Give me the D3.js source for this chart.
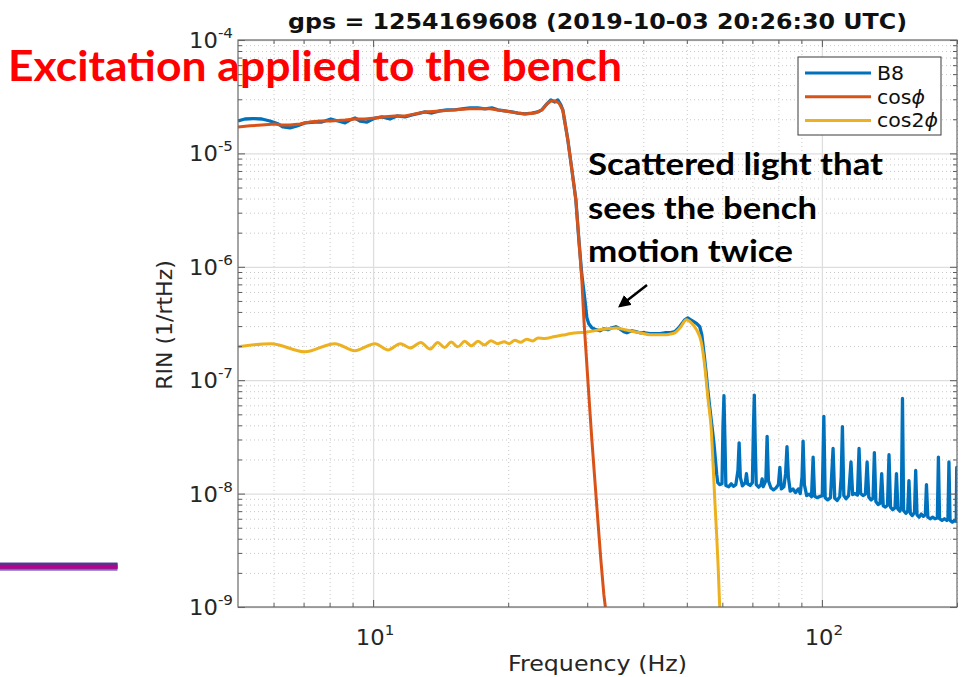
<!DOCTYPE html>
<html>
<head>
<meta charset="utf-8">
<script src="https://cdn.jsdelivr.net/npm/d3@7"></script>
<style>
  body { margin: 0; background: #fff; }
  svg { display: block; }
  .tick-label, .axis-label { font-family: "DejaVu Sans", sans-serif; fill: #262626; }
</style>
</head>
<body>
<div id="holder"></div>
<script>
// ---- data: [frequency (Hz), RIN (1/rtHz)] ----
var b8 = [
  [5.00,1.93e-5],[5.18,2.01e-5],[5.40,2.03e-5],[5.65,2.01e-5],[5.89,1.93e-5],[6.14,1.82e-5],[6.30,1.71e-5],
  [6.53,1.68e-5],[6.77,1.75e-5],[7.05,1.86e-5],[7.42,1.89e-5],[7.69,1.89e-5],[8.05,2.01e-5],[8.35,1.93e-5],
  [8.66,1.86e-5],[8.88,1.97e-5],[9.11,2.05e-5],[9.35,1.93e-5],[9.69,1.89e-5],[10.10,2.05e-5],[10.46,2.10e-5],
  [10.90,2.01e-5],[11.30,2.14e-5],[11.78,2.10e-5],[12.21,2.18e-5],[12.72,2.27e-5],[13.05,2.32e-5],[13.52,2.27e-5],
  [14.09,2.37e-5],[14.60,2.42e-5],[15.21,2.42e-5],[15.77,2.47e-5],[16.43,2.52e-5],[17.12,2.52e-5],[17.75,2.47e-5],
  [18.39,2.52e-5],[18.97,2.42e-5],[19.66,2.37e-5],[20.38,2.32e-5],[21.02,2.27e-5],[21.79,2.23e-5],[22.58,2.27e-5],
  [23.29,2.32e-5],[23.77,2.42e-5],[24.39,2.73e-5],[24.89,2.96e-5],[25.41,2.84e-5],[25.80,2.96e-5],[26.20,2.68e-5],
  [26.47,2.41e-5],[27.16,1.31e-5],[27.73,7.16e-6],[28.30,3.89e-6],[28.74,1.73e-6],[29.18,8.50e-7],[29.64,5.12e-7],
  [29.94,3.56e-7],[30.24,3.15e-7],[30.72,2.90e-7],[31.36,2.79e-7],[32.01,2.73e-7],[32.67,2.84e-7],[33.35,2.79e-7],
  [34.04,2.90e-7],[34.75,2.96e-7],[35.46,2.84e-7],[36.20,2.68e-7],[36.76,2.62e-7],[37.72,2.73e-7],[38.50,2.68e-7],
  [39.30,2.62e-7],[40.32,2.62e-7],[41.37,2.57e-7],[42.45,2.57e-7],[43.55,2.57e-7],[44.67,2.62e-7],[45.82,2.62e-7],
  [47.01,2.68e-7],[47.99,2.90e-7],[48.74,3.15e-7],[49.49,3.41e-7],[50.26,3.55e-7],[51.03,3.41e-7],[51.81,3.28e-7],
  [52.63,3.15e-7],[53.45,2.96e-7],[54.00,2.52e-7],[54.56,1.78e-7],[55.12,1.24e-7],[55.68,8.25e-8],[56.26,5.72e-8],
  [56.84,4.05e-8],[57.42,2.87e-8],[57.86,2.08e-8],[58.31,1.47e-8],[58.61,1.25e-8],[59.20,1.20e-8],
  [59.9,1.22e-8],[60.2,4.0e-8],[60.5,7.3e-8],[60.8,3.0e-8],[61.1,1.18e-8],[62.0,1.15e-8],[62.8,1.22e-8],
  [63.5,1.16e-8],[64.3,1.20e-8],[65.0,1.6e-8],[65.4,2.8e-8],[65.8,1.4e-8],[66.5,1.17e-8],[67.5,1.25e-8],
  [67.9,1.5e-8],[68.3,1.22e-8],[69.2,1.18e-8],[70.0,1.25e-8],[70.4,4.0e-8],[70.7,7.4e-8],[71.0,3.0e-8],
  [71.4,1.20e-8],[72.3,1.14e-8],[73.2,1.20e-8],[73.6,1.35e-8],[74.0,1.15e-8],[75.0,1.3e-8],[75.5,3.2e-8],
  [76.0,1.3e-8],[77.0,1.12e-8],[78.0,1.08e-8],[79.0,1.12e-8],[80.0,1.2e-8],[80.6,1.7e-8],[81.2,1.1e-8],
  [82.3,1.15e-8],[83.0,1.5e-8],[83.6,2.6e-8],[84.2,1.4e-8],[85.0,1.05e-8],[86.2,1.10e-8],[87.3,1.02e-8],
  [88.6,1.10e-8],[89.5,1.0e-8],[90.3,1.4e-8],[90.8,2.9e-8],[91.4,1.2e-8],[92.5,9.6e-9],[93.7,9.9e-9],
  [94.8,9.4e-9],[95.6,2.1e-8],[96.3,9.5e-9],[97.5,9.2e-9],[98.8,9.4e-9],[100.2,9.6e-9],[101.0,4.8e-8],
  [101.7,9.2e-9],[103.0,8.8e-9],[104.5,9.2e-9],[105.9,2.5e-8],[106.8,9.1e-9],[108.2,8.7e-9],[109.6,9.4e-9],
  [110.4,1.4e-8],[111.1,3.9e-8],[111.9,9.6e-9],[113.2,9.0e-9],[114.7,9.6e-9],[116.1,1.9e-8],[117.1,9.8e-9],
  [118.5,1.0e-8],[120.0,9.7e-9],[121.0,2.5e-8],[122.0,1.0e-8],[123.5,9.6e-9],[125.0,9.9e-9],[126.1,1.9e-8],
  [127.2,9.3e-9],[128.7,8.8e-9],[130.0,9.1e-9],[130.9,2.3e-8],[131.9,8.5e-9],[133.4,8.0e-9],[134.8,8.2e-9],
  [135.9,1.5e-8],[137.0,7.8e-9],[138.5,7.6e-9],[140.0,7.9e-9],[141.1,2.2e-8],[142.2,7.6e-9],[143.8,7.2e-9],
  [145.5,7.5e-9],[146.6,1.5e-8],[147.7,7.3e-9],[149.2,7.0e-9],[150.3,7.6e-9],[151.2,6.9e-8],[152.1,7.1e-9],
  [153.8,6.7e-9],[155.3,7.0e-9],[156.3,1.3e-8],[157.4,6.7e-9],[159.0,6.4e-9],[160.8,6.8e-9],[161.8,1.6e-8],
  [162.9,6.5e-9],[164.7,6.2e-9],[166.5,6.6e-9],[168.3,6.3e-9],[170.0,6.5e-9],[171.0,1.2e-8],[172.2,6.2e-9],
  [174.3,6.0e-9],[176.5,6.2e-9],[178.6,6.0e-9],[180.8,6.1e-9],[181.8,2.1e-8],[182.9,6.0e-9],[185.2,5.8e-9],
  [187.5,6.0e-9],[189.8,5.8e-9],[190.9,6.0e-9],[191.9,1.9e-8],[193.0,5.8e-9],[195.3,5.6e-9],[197.6,5.8e-9],
  [199.2,5.7e-9],[199.7,1.7e-8],[200.0,1.1e-8]
];

var cosPhi = [
  [5.00,1.71e-5],[5.32,1.75e-5],[5.65,1.78e-5],[6.04,1.82e-5],[6.23,1.78e-5],[6.53,1.78e-5],[6.87,1.82e-5],
  [7.23,1.89e-5],[7.61,1.93e-5],[8.05,1.93e-5],[8.66,1.97e-5],[9.11,2.01e-5],[9.59,2.01e-5],[10.10,2.05e-5],
  [10.63,2.10e-5],[11.18,2.14e-5],[11.78,2.14e-5],[12.40,2.23e-5],[13.05,2.32e-5],[14.09,2.37e-5],[15.21,2.42e-5],
  [16.43,2.47e-5],[17.12,2.47e-5],[18.21,2.47e-5],[19.66,2.37e-5],[21.02,2.27e-5],[21.79,2.23e-5],[22.94,2.27e-5],
  [23.77,2.42e-5],[24.39,2.73e-5],[24.89,2.90e-5],[25.41,2.90e-5],[25.93,2.79e-5],[26.47,2.41e-5],
  [27.16,1.31e-5],[27.73,7.16e-6],[28.30,3.89e-6],[28.74,1.73e-6],[29.18,7.68e-7],[29.49,3.41e-7],
  [29.79,1.86e-7],[30.09,1.01e-7],[30.40,5.49e-8],[30.72,2.99e-8],[31.19,1.33e-8],[31.67,5.90e-9],
  [32.17,2.62e-9],[32.67,1.29e-9],[33.18,7.76e-10]
];

var cos2Phi = [
  [5.00,1.97e-7],[5.92,2.10e-7],[7.05,1.78e-7],[8.22,2.10e-7],[9.10,1.82e-7],[10.10,2.10e-7],[10.80,1.85e-7],
  [11.50,2.10e-7],[12.10,1.92e-7],[12.78,2.15e-7],[13.39,1.88e-7],[13.93,2.15e-7],[14.43,1.94e-7],[14.93,2.17e-7],
  [15.45,1.97e-7],[16.00,2.20e-7],[16.55,2.01e-7],[17.12,2.20e-7],[17.70,2.04e-7],[18.30,2.23e-7],[18.97,2.10e-7],
  [19.60,2.18e-7],[20.10,2.10e-7],[20.70,2.25e-7],[21.30,2.16e-7],[22.00,2.30e-7],[22.70,2.22e-7],[23.30,2.36e-7],
  [24.10,2.33e-7],[25.40,2.43e-7],[26.50,2.50e-7],[27.60,2.58e-7],[28.50,2.62e-7],[29.60,2.64e-7],[31.00,2.72e-7],
  [32.00,2.79e-7],[33.35,2.84e-7],[34.86,2.88e-7],[36.38,2.79e-7],[37.90,2.69e-7],[39.30,2.62e-7],[41.37,2.52e-7],
  [43.10,2.52e-7],[45.06,2.52e-7],[46.30,2.57e-7],[47.01,2.61e-7],[48.24,2.88e-7],[49.92,3.41e-7],[51.21,3.19e-7],
  [52.55,2.79e-7],[53.90,2.14e-7],[54.84,1.32e-7],[55.77,6.73e-8],[56.75,3.44e-8],[57.24,1.74e-8],[57.72,8.85e-9],
  [58.24,4.53e-9],[58.72,2.29e-9],[59.20,1.0e-9],[59.51,6.94e-10]
];

var seriesNames = ['B8', 'cos', 'cos2'];
var seriesColors = ['#0072BD', '#D95319', '#EDB120'];
var xTickExps = [1, 2];
var yTickExps = [-9, -8, -7, -6, -5, -4];
var titleText = 'gps = 1254169608 (2019-10-03 20:26:30 UTC)';

// ---- layout ----
var fullWidth = 961, fullHeight = 677;
var plot = {left: 238, right: 957, top: 40, bottom: 607};
var sx = 1.08; // the slide stretched the figure a little horizontally

var svg = d3.select('#holder').append('svg')
  .attr('width', fullWidth)
  .attr('height', fullHeight);

var x = d3.scaleLog().domain([5, 200]).range([plot.left, plot.right]);
var y = d3.scaleLog().domain([1e-9, 1e-4]).range([plot.bottom, plot.top]);

// minor tick positions (2..9 in every decade)
var xMinor = [], yMinor = [];
[1, 10, 100].forEach(function(d) {
  for (var k = 1; k <= 9; k++) {
    var v = k * d;
    if (v > 5 && v <= 200 && xTickExps.indexOf(Math.log10(v)) < 0) xMinor.push(v);
  }
});
yTickExps.slice(0, -1).forEach(function(e) {
  for (var k = 2; k <= 9; k++) yMinor.push(k * Math.pow(10, e));
});
var xMajor = xTickExps.map(function(e) { return Math.pow(10, e); });
var yMajor = yTickExps.map(function(e) { return Math.pow(10, e); });

var pw = plot.right - plot.left, ph = plot.bottom - plot.top;

// ---- grid ----
function grid(axis, tr, cls) {
  var g = svg.append('g').attr('transform', tr).call(axis);
  g.select('.domain').remove();
  g.selectAll('line').attr('class', cls);
  return g;
}
grid(d3.axisBottom(x).tickValues(xMinor).tickSize(-ph).tickFormat(''), 'translate(0,' + plot.bottom + ')', 'minor');
grid(d3.axisLeft(y).tickValues(yMinor).tickSize(-pw).tickFormat(''), 'translate(' + plot.left + ',0)', 'minor');
grid(d3.axisBottom(x).tickValues(xMajor).tickSize(-ph).tickFormat(''), 'translate(0,' + plot.bottom + ')', 'major');
grid(d3.axisLeft(y).tickValues(yMajor).tickSize(-pw).tickFormat(''), 'translate(' + plot.left + ',0)', 'major');
svg.selectAll('line.minor').attr('stroke', '#c8c8c8').attr('stroke-width', 1).attr('stroke-dasharray', '1,3');
svg.selectAll('line.major').attr('stroke', '#dedede').attr('stroke-width', 1.3);

// ---- lines ----
svg.append('clipPath').attr('id', 'clip')
  .append('rect').attr('x', plot.left).attr('y', plot.top).attr('width', pw).attr('height', ph);

function lineGen(curve) {
  return d3.line()
    .x(function(d) { return x(d[0]); })
    .y(function(d) { return y(d[1]); })
    .curve(curve);
}

var lines = svg.append('g').attr('clip-path', 'url(#clip)');
// drawing order: B8, cos2phi, cosphi
[[b8, 0, d3.curveLinear, 3.3], [cos2Phi, 2, d3.curveMonotoneX, 3], [cosPhi, 1, d3.curveLinear, 3]].forEach(function(s) {
  lines.append('path')
    .attr('d', lineGen(s[2])(s[0]))
    .attr('fill', 'none')
    .attr('stroke', seriesColors[s[1]])
    .attr('stroke-width', s[3])
    .attr('stroke-linejoin', 'round');
});

// ---- axes box and inward ticks ----
function ticks(axis, tr) {
  var g = svg.append('g').attr('transform', tr).call(axis);
  g.select('.domain').remove();
  g.selectAll('line').attr('stroke', '#5a5a5a');
}
ticks(d3.axisBottom(x).tickValues(xMajor).tickSize(-7).tickFormat(''), 'translate(0,' + plot.bottom + ')');
ticks(d3.axisBottom(x).tickValues(xMinor).tickSize(-4).tickFormat(''), 'translate(0,' + plot.bottom + ')');
ticks(d3.axisTop(x).tickValues(xMajor).tickSize(-7).tickFormat(''), 'translate(0,' + plot.top + ')');
ticks(d3.axisTop(x).tickValues(xMinor).tickSize(-4).tickFormat(''), 'translate(0,' + plot.top + ')');
ticks(d3.axisLeft(y).tickValues(yMajor).tickSize(-7).tickFormat(''), 'translate(' + plot.left + ',0)');
ticks(d3.axisLeft(y).tickValues(yMinor).tickSize(-4).tickFormat(''), 'translate(' + plot.left + ',0)');
ticks(d3.axisRight(y).tickValues(yMajor).tickSize(-7).tickFormat(''), 'translate(' + plot.right + ',0)');
ticks(d3.axisRight(y).tickValues(yMinor).tickSize(-4).tickFormat(''), 'translate(' + plot.right + ',0)');

svg.append('rect')
  .attr('x', plot.left).attr('y', plot.top).attr('width', pw).attr('height', ph)
  .attr('fill', 'none').attr('stroke', '#6a6a6a').attr('stroke-width', 1.2);

// ---- tick labels ----
function powLabel(px, py, anchor, e) {
  var t = svg.append('text')
    .attr('class', 'tick-label')
    .attr('transform', 'translate(' + px + ',' + py + ') scale(' + sx + ',1)')
    .attr('text-anchor', anchor)
    .style('font-size', '21px');
  t.append('tspan').text('10');
  t.append('tspan').attr('dy', -10).style('font-size', '14px').text(e);
}
yTickExps.forEach(function(e) { powLabel(233, y(Math.pow(10, e)) + 8, 'end', e); });
xTickExps.forEach(function(e) { powLabel(x(Math.pow(10, e)) + 2, 645, 'middle', e); });

// axis labels
svg.append('text').attr('class', 'axis-label')
  .attr('transform', 'translate(' + (plot.left + plot.right) / 2 + ',671) scale(' + sx + ',1)')
  .attr('text-anchor', 'middle').style('font-size', '22px')
  .text('Frequency (Hz)');
svg.append('text').attr('class', 'axis-label')
  .attr('transform', 'translate(172,325) rotate(-90)')
  .attr('text-anchor', 'middle').style('font-size', '22px')
  .text('RIN (1/rtHz)');

// title
svg.append('text')
  .attr('transform', 'translate(' + (plot.left + plot.right) / 2 + ',29) scale(' + sx + ',1)')
  .attr('text-anchor', 'middle')
  .style('font-family', '"DejaVu Sans", sans-serif')
  .style('font-weight', 'bold').style('font-size', '22px').attr('fill', '#111')
  .text(titleText);

// ---- legend ----
var legend = svg.append('g');
legend.append('rect')
  .attr('x', 798).attr('y', 57).attr('width', 143).attr('height', 78)
  .attr('fill', '#fff').attr('stroke', '#3a3a3a').attr('stroke-width', 1);
seriesNames.forEach(function(name, i) {
  var ly = 73 + i * 23.7;
  legend.append('line')
    .attr('x1', 805).attr('x2', 871).attr('y1', ly).attr('y2', ly)
    .attr('stroke', seriesColors[i]).attr('stroke-width', 3);
  var t = legend.append('text')
    .attr('transform', 'translate(877,' + (ly + 7) + ') scale(' + sx + ',1)')
    .style('font-family', '"DejaVu Sans", sans-serif').style('font-size', '19px').attr('fill', '#111');
  t.append('tspan').text(name);
  if (i > 0) t.append('tspan').style('font-style', 'italic').text('\u03d5');
});

// ---- slide annotations ----
svg.append('text')
  .attr('x', 8).attr('y', 81)
  .attr('textLength', 614).attr('lengthAdjust', 'spacingAndGlyphs')
  .style('font-family', 'Lato, "Open Sans", sans-serif').style('font-weight', 'bold').style('font-size', '42px')
  .attr('fill', '#ff0000')
  .text('Excitation applied to the bench');

var note = [['Scattered light that', 295], ['sees the bench', 229], ['motion twice', 205]];
note.forEach(function(n, i) {
  svg.append('text')
    .attr('x', 588).attr('y', 175 + i * 43.5)
    .attr('textLength', n[1]).attr('lengthAdjust', 'spacingAndGlyphs')
    .style('font-family', 'Lato, "Open Sans", sans-serif').style('font-weight', 'bold').style('font-size', '31px')
    .attr('fill', '#000')
    .text(n[0]);
});

// arrow
svg.append('defs').append('marker')
  .attr('id', 'head').attr('viewBox', '0 0 10 10').attr('refX', 8).attr('refY', 5)
  .attr('markerWidth', 5).attr('markerHeight', 5).attr('orient', 'auto')
  .append('path').attr('d', 'M0,0 L10,5 L0,10 z').attr('fill', '#000');
svg.append('line')
  .attr('x1', 647).attr('y1', 285).attr('x2', 620).attr('y2', 306)
  .attr('stroke', '#000').attr('stroke-width', 2.5).attr('marker-end', 'url(#head)');

// stray slide bar at the left
svg.append('rect').attr('x', 0).attr('y', 562.7).attr('width', 117.5).attr('height', 8).attr('fill', '#8063c4');
svg.append('rect').attr('x', 0).attr('y', 562.7).attr('width', 117.5).attr('height', 6).attr('fill', '#42408c');
svg.append('rect').attr('x', 0).attr('y', 564.7).attr('width', 117.5).attr('height', 4).attr('fill', '#b8008e');
</script>
</body>
</html>
